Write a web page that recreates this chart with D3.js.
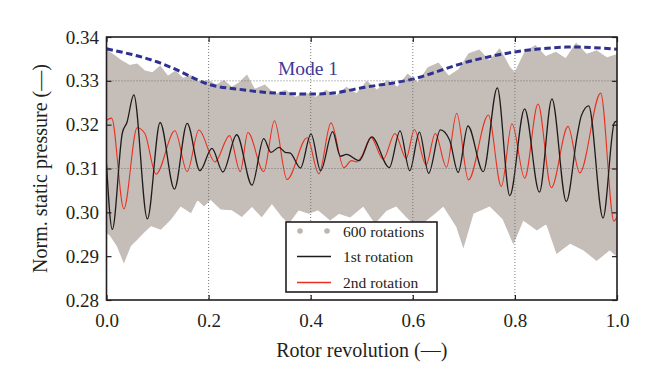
<!DOCTYPE html>
<html>
<head>
<meta charset="utf-8">
<script src="https://cdn.jsdelivr.net/npm/d3@7"></script>
<style>
  html, body { margin: 0; padding: 0; background: #fff; }
  svg text { font-family: "Liberation Serif", "Times New Roman", serif; fill: #231f20; }
</style>
</head>
<body>
<svg id="chart" width="660" height="391"></svg>
<script>
// ---------- data ----------
const xTicks = [0.0, 0.2, 0.4, 0.6, 0.8, 1.0];
const yTicks = [0.28, 0.29, 0.30, 0.31, 0.32, 0.33, 0.34];
const xGrid = [0.2, 0.4, 0.6, 0.8];
const yGrid = [0.31, 0.33];

// Mode 1 (dashed)
const modeX = [0, 0.05, 0.1, 0.15, 0.2, 0.25, 0.3, 0.35, 0.4, 0.45, 0.5, 0.55, 0.6, 0.65, 0.7, 0.75, 0.8, 0.85, 0.9, 0.95, 1.0];
const modeY = [0.3373, 0.3360, 0.3343, 0.3318, 0.3292, 0.3282, 0.3275, 0.3271, 0.3270, 0.3273, 0.3284, 0.3293, 0.3304, 0.3322, 0.3341, 0.3355, 0.3366, 0.3373, 0.3377, 0.3376, 0.3372];

// 600 rotations envelope (upper / lower edge of grey band)
const upX = [0.00, 0.015, 0.03, 0.045, 0.06, 0.075, 0.09, 0.105, 0.12, 0.135, 0.15, 0.165, 0.18, 0.20, 0.215, 0.23, 0.245, 0.26, 0.275, 0.29, 0.31, 0.33, 0.35, 0.37, 0.39, 0.41, 0.43, 0.45, 0.47, 0.49, 0.51, 0.53, 0.55, 0.57, 0.59, 0.61, 0.63, 0.65, 0.67, 0.69, 0.71, 0.73, 0.75, 0.77, 0.79, 0.80, 0.82, 0.84, 0.86, 0.88, 0.90, 0.92, 0.94, 0.96, 0.98, 1.00];
const upY = [0.3370, 0.3358, 0.3345, 0.3335, 0.3338, 0.3322, 0.3318, 0.3333, 0.3310, 0.3322, 0.3305, 0.3312, 0.3298, 0.3300, 0.3290, 0.3300, 0.3285, 0.3295, 0.3312, 0.3280, 0.3290, 0.3268, 0.3278, 0.3262, 0.3272, 0.3262, 0.3278, 0.3265, 0.3285, 0.3270, 0.3298, 0.3278, 0.3300, 0.3285, 0.3315, 0.3295, 0.3330, 0.3340, 0.3310, 0.3325, 0.3362, 0.3370, 0.3345, 0.3372, 0.3330, 0.3318, 0.3366, 0.3380, 0.3355, 0.3365, 0.3350, 0.3385, 0.3360, 0.3368, 0.3352, 0.3360];
const lowX = [0.000, 0.008, 0.021, 0.034, 0.047, 0.060, 0.073, 0.087, 0.106, 0.126, 0.145, 0.165, 0.178, 0.191, 0.204, 0.224, 0.246, 0.265, 0.285, 0.304, 0.324, 0.344, 0.357, 0.376, 0.396, 0.415, 0.438, 0.455, 0.477, 0.503, 0.526, 0.548, 0.568, 0.588, 0.608, 0.627, 0.645, 0.660, 0.686, 0.699, 0.718, 0.751, 0.777, 0.797, 0.816, 0.843, 0.862, 0.882, 0.908, 0.934, 0.960, 0.986, 1.000];
const lowY = [0.2955, 0.2947, 0.2924, 0.2887, 0.2924, 0.2939, 0.2955, 0.2970, 0.2962, 0.2985, 0.3015, 0.3000, 0.3030, 0.3015, 0.3030, 0.3008, 0.3006, 0.2991, 0.3014, 0.2991, 0.3021, 0.2991, 0.2976, 0.3006, 0.2998, 0.3006, 0.2983, 0.2998, 0.2990, 0.3015, 0.2976, 0.3005, 0.3015, 0.2990, 0.2968, 0.2983, 0.3000, 0.3015, 0.2968, 0.2922, 0.2998, 0.3015, 0.2985, 0.2930, 0.2983, 0.2960, 0.2975, 0.2907, 0.2930, 0.2915, 0.2891, 0.2915, 0.2900];

// 1st rotation (black)
const r1X = [0.000, 0.0114, 0.031, 0.040, 0.0535, 0.080, 0.105, 0.133, 0.158, 0.183, 0.2065, 0.228, 0.255, 0.285, 0.308, 0.322, 0.338, 0.350, 0.360, 0.380, 0.4006, 0.4195, 0.443, 0.458, 0.470, 0.495, 0.5195, 0.554, 0.575, 0.594, 0.613, 0.631, 0.654, 0.672, 0.689, 0.708, 0.738, 0.7655, 0.790, 0.819, 0.848, 0.8725, 0.9007, 0.922, 0.930, 0.9445, 0.9726, 0.995, 1.000];
const r1Y = [0.3110, 0.2961, 0.3181, 0.3205, 0.3268, 0.2985, 0.3205, 0.3053, 0.3203, 0.3095, 0.3146, 0.3092, 0.3177, 0.3062, 0.3168, 0.3137, 0.3148, 0.3137, 0.3135, 0.3101, 0.3179, 0.3095, 0.3184, 0.3128, 0.3132, 0.3118, 0.3172, 0.3102, 0.3186, 0.3095, 0.3183, 0.3089, 0.3188, 0.3165, 0.3091, 0.3197, 0.3093, 0.3284, 0.3038, 0.3236, 0.3046, 0.3259, 0.3025, 0.3175, 0.3220, 0.3243, 0.2987, 0.3205, 0.3208];

// 2nd rotation (red)
const r2X = [0.000, 0.010, 0.034, 0.060, 0.075, 0.097, 0.134, 0.158, 0.181, 0.2125, 0.241, 0.262, 0.277, 0.308, 0.329, 0.3536, 0.393, 0.416, 0.4397, 0.465, 0.480, 0.490, 0.500, 0.518, 0.542, 0.565, 0.587, 0.603, 0.626, 0.644, 0.666, 0.686, 0.709, 0.748, 0.7734, 0.7943, 0.8192, 0.8453, 0.8713, 0.904, 0.927, 0.968, 0.994, 1.000];
const r2Y = [0.3210, 0.3215, 0.3008, 0.3193, 0.3180, 0.3087, 0.3186, 0.3093, 0.3188, 0.3115, 0.3175, 0.3093, 0.3182, 0.3093, 0.3209, 0.3075, 0.3170, 0.3088, 0.3204, 0.3102, 0.3118, 0.3115, 0.3128, 0.3171, 0.3121, 0.3180, 0.3123, 0.3189, 0.3108, 0.3180, 0.3103, 0.3226, 0.3074, 0.3222, 0.3059, 0.3202, 0.3078, 0.3247, 0.3056, 0.3196, 0.3090, 0.3272, 0.2980, 0.2990];

const legendLabels = ["600 rotations", "1st rotation", "2nd rotation"];

// ---------- drawing ----------
const svg = d3.select("#chart");
const L = 106.5, R = 617, T = 37, B = 300;
const x = d3.scaleLinear().domain([0, 1]).range([L, R]);
const y = d3.scaleLinear().domain([0.28, 0.34]).range([B, T]);

svg.append("defs").append("clipPath").attr("id", "clip")
  .append("rect").attr("x", L).attr("y", T).attr("width", R - L).attr("height", B - T);

const plot = svg.append("g").attr("clip-path", "url(#clip)");

// grey band of 600 rotations
const bandUp = upX.map((v, i) => [x(v), y(upY[i])]);
const bandLow = lowX.map((v, i) => [x(v), y(lowY[i])]);
const bandPts = bandUp.concat(bandLow.slice().reverse());
plot.append("path")
  .attr("d", d3.line().curve(d3.curveLinearClosed)(bandPts))
  .attr("fill", "#c5bdb8").attr("stroke", "#c5bdb8").attr("stroke-width", 1.2);

// grid
const gridG = svg.append("g").attr("stroke", "#6d6d6d").attr("stroke-width", 0.9).attr("stroke-dasharray", "1,2");
gridG.selectAll("line.vx").data(xGrid).join("line")
  .attr("x1", d => x(d)).attr("x2", d => x(d)).attr("y1", T).attr("y2", B);
gridG.selectAll("line.hy").data(yGrid).join("line")
  .attr("x1", L).attr("x2", R).attr("y1", d => y(d)).attr("y2", d => y(d));

// rotation lines
const line = d3.line().x(d => x(d[0])).y(d => y(d[1])).curve(d3.curveMonotoneX);
plot.append("path").datum(r2X.map((v, i) => [v, r2Y[i]]))
  .attr("d", line).attr("fill", "none").attr("stroke", "#e8301f").attr("stroke-width", 1.1);
plot.append("path").datum(r1X.map((v, i) => [v, r1Y[i]]))
  .attr("d", line).attr("fill", "none").attr("stroke", "#1e1b1b").attr("stroke-width", 1.3);

// mode 1 dashed
const modeLine = d3.line().x(d => x(d[0])).y(d => y(d[1])).curve(d3.curveNatural);
plot.append("path").datum(modeX.map((v, i) => [v, modeY[i]]))
  .attr("d", modeLine).attr("fill", "none").attr("stroke", "#2f3190")
  .attr("stroke-width", 3).attr("stroke-dasharray", "6.5,3.5");

svg.append("text").attr("x", 278).attr("y", 74.5)
  .style("font-size", "19.5px").style("fill", "#3c3b95").text("Mode 1");

// axes (inward ticks)
const tickFmtX = d3.format(".1f"), tickFmtY = d3.format(".2f");
const axB = svg.append("g").attr("transform", `translate(0,${B})`)
  .call(d3.axisBottom(x).tickValues(xTicks).tickFormat(tickFmtX).tickSizeInner(-5).tickSizeOuter(0).tickPadding(13.5));
const axL = svg.append("g").attr("transform", `translate(${L},0)`)
  .call(d3.axisLeft(y).tickValues(yTicks).tickFormat(tickFmtY).tickSizeInner(-5).tickSizeOuter(0).tickPadding(7.5));
const axT = svg.append("g").attr("transform", `translate(0,${T})`)
  .call(d3.axisTop(x).tickValues(xTicks).tickFormat("").tickSizeInner(-5).tickSizeOuter(0));
const axR = svg.append("g").attr("transform", `translate(${R},0)`)
  .call(d3.axisRight(y).tickValues(yTicks).tickFormat("").tickSizeInner(-5).tickSizeOuter(0));
[axB, axL, axT, axR].forEach(a => {
  a.select(".domain").remove();
  a.selectAll(".tick line").attr("stroke", "#231f20").attr("stroke-width", 1.2);
  a.selectAll("text").style("font-size", "19px").attr("font-family", null).style("fill", "#231f20");
});

// frame
svg.append("rect").attr("x", L).attr("y", T).attr("width", R - L).attr("height", B - T)
  .attr("fill", "none").attr("stroke", "#231f20").attr("stroke-width", 1.6);

// axis titles
svg.append("text").attr("x", (L + R) / 2).attr("y", 357).attr("text-anchor", "middle")
  .style("font-size", "20px").text("Rotor revolution (—)");
svg.append("text").attr("transform", `translate(47,${(T + B) / 2}) rotate(-90)`)
  .attr("text-anchor", "middle").style("font-size", "20px").text("Norm. static pressure (—)");

// legend
const lg = svg.append("g");
lg.append("rect").attr("x", 286).attr("y", 222).attr("width", 151).attr("height", 70)
  .attr("fill", "#fff").attr("stroke", "#231f20").attr("stroke-width", 1.6);
const rowsY = [231, 256.5, 282.5];
lg.selectAll("circle.dot").data([300, 327]).join("circle")
  .attr("cx", d => d).attr("cy", rowsY[0]).attr("r", 2.8).attr("fill", "#bdb5b0");
lg.append("line").attr("x1", 297).attr("x2", 331).attr("y1", rowsY[1]).attr("y2", rowsY[1])
  .attr("stroke", "#1e1b1b").attr("stroke-width", 1.3);
lg.append("line").attr("x1", 297).attr("x2", 331).attr("y1", rowsY[2]).attr("y2", rowsY[2])
  .attr("stroke", "#e8301f").attr("stroke-width", 1.3);
lg.selectAll("text.lab").data(legendLabels).join("text")
  .attr("x", 343).attr("y", (d, i) => rowsY[i] + 5.5)
  .style("font-size", "15.5px").text(d => d);
</script>
</body>
</html>
